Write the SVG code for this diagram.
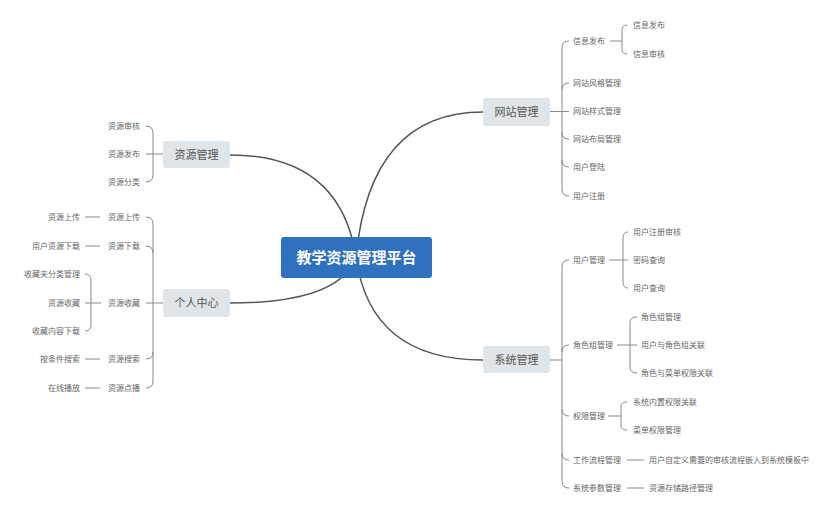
<svg xmlns="http://www.w3.org/2000/svg" width="836" height="516" viewBox="0 0 836 516">
<style>
text{font-family:"Noto Sans CJK SC","Noto Sans",sans-serif}
.leaf{font-size:8px;fill:#666}
.main{font-size:11px;fill:#555;text-anchor:middle}
.root{font-size:15px;font-weight:bold;fill:#fff;text-anchor:middle}
.mbox{fill:#dfe5e8}
.br{fill:none;stroke:#888;stroke-width:1}
.trunk{fill:none;stroke:#555;stroke-width:1.5}
.l{text-anchor:end}
</style>
<rect width="836" height="516" fill="#fff"/>
<g id="connectors">
<path class="trunk" d="M356,257 Q370,112 483,112"/>
<path class="trunk" d="M356,257 Q340,155 230,155"/>
<path class="trunk" d="M356,257 Q340,303 230,303"/>
<path class="trunk" d="M356,257 Q370,360 483,360"/>
<!-- 资源管理 -->
<path class="br" d="M146,126 Q153,126 153,133 L153,175 Q153,182 146,182 M146,154 H163"/>
<!-- 个人中心 -->
<path class="br" d="M146,217 Q153,217 153,224 L153,381 Q153,388 146,388 M146,246 Q153,246 153,253 M146,359 Q153,359 153,352 M146,303 H163"/>
<path class="br" d="M85,217 H100 M85,246 H100 M85,359 H100 M85,388 H100"/>
<path class="br" d="M85,274 Q91,274 91,280 L91,325 Q91,331 85,331 M85,303 H101"/>
<!-- 网站管理 -->
<path class="br" d="M569,41 Q562,41 562,48 L562,189 Q562,196 569,196 M569,83 Q562,83 562,90 M550,111.5 H569 M569,139 Q562,139 562,132 M569,167 Q562,167 562,160"/>
<path class="br" d="M610,41 H622 M627,25 Q622,25 622,30 L622,49 Q622,54 627,54"/>
<!-- 系统管理 -->
<path class="br" d="M569,260 Q562,260 562,267 L562,481 Q562,488 569,488 M569,345 Q562,345 562,352 M569,416 Q562,416 562,409 M569,460 Q562,460 562,453 M550,360 H562"/>
<path class="br" d="M609,260 H628 M628,232 Q623,232 623,238 L623,282 Q623,288 628,288"/>
<path class="br" d="M617,345 H637 M637,317 Q630,317 630,323 L630,367 Q630,373 637,373"/>
<path class="br" d="M608,416 H621 M627,402 Q621,402 621,407 L621,425 Q621,430 627,430"/>
<path class="br" d="M627,460 H644 M627,488 H644"/>
</g>
<g id="root">
<rect x="281" y="237" width="151" height="41" rx="3" fill="#2f70bf"/>
<text class="root" x="356.5" y="263">教学资源管理平台</text>
</g>
<g id="n-resource">
<rect class="mbox" x="163" y="141" width="67" height="27" rx="3"/>
<text class="main" x="196.5" y="158.5">资源管理</text>
<text class="leaf l" x="140" y="129">资源审核</text>
<text class="leaf l" x="140" y="157">资源发布</text>
<text class="leaf l" x="140" y="185">资源分类</text>
</g>
<g id="n-personal">
<rect class="mbox" x="163" y="289" width="67" height="28" rx="3"/>
<text class="main" x="196.5" y="307">个人中心</text>
<text class="leaf l" x="140" y="220">资源上传</text>
<text class="leaf l" x="140" y="249">资源下载</text>
<text class="leaf l" x="140" y="306">资源收藏</text>
<text class="leaf l" x="140" y="362">资源搜索</text>
<text class="leaf l" x="140" y="391">资源点播</text>
<text class="leaf l" x="80" y="220">资源上传</text>
<text class="leaf l" x="80" y="249">用户资源下载</text>
<text class="leaf l" x="80" y="277">收藏夹分类管理</text>
<text class="leaf l" x="80" y="306">资源收藏</text>
<text class="leaf l" x="80" y="334">收藏内容下载</text>
<text class="leaf l" x="80" y="362">按条件搜索</text>
<text class="leaf l" x="80" y="391">在线播放</text>
</g>
<g id="n-website">
<rect class="mbox" x="483" y="98" width="67" height="28" rx="3"/>
<text class="main" x="516.5" y="116">网站管理</text>
<text class="leaf" x="573" y="44">信息发布</text>
<text class="leaf" x="573" y="86">网站风格管理</text>
<text class="leaf" x="573" y="114">网站样式管理</text>
<text class="leaf" x="573" y="142">网站布局管理</text>
<text class="leaf" x="573" y="170">用户登陆</text>
<text class="leaf" x="573" y="199">用户注册</text>
<text class="leaf" x="633" y="28">信息发布</text>
<text class="leaf" x="633" y="57">信息审核</text>
</g>
<g id="n-system">
<rect class="mbox" x="483" y="346" width="67" height="27" rx="3"/>
<text class="main" x="516.5" y="363.5">系统管理</text>
<text class="leaf" x="573" y="263">用户管理</text>
<text class="leaf" x="573" y="348">角色组管理</text>
<text class="leaf" x="573" y="419">权限管理</text>
<text class="leaf" x="573" y="463">工作流程管理</text>
<text class="leaf" x="573" y="491">系统参数管理</text>
<text class="leaf" x="633" y="235">用户注册审核</text>
<text class="leaf" x="633" y="263">密码查询</text>
<text class="leaf" x="633" y="291">用户查询</text>
<text class="leaf" x="641" y="320">角色组管理</text>
<text class="leaf" x="641" y="348">用户与角色组关联</text>
<text class="leaf" x="641" y="376">角色与菜单权限关联</text>
<text class="leaf" x="633" y="405">系统内置权限关联</text>
<text class="leaf" x="633" y="433">菜单权限管理</text>
<text class="leaf" x="649" y="463">用户自定义需要的审核流程嵌入到系统模板中</text>
<text class="leaf" x="649" y="491">资源存储路径管理</text>
</g>
</svg>
